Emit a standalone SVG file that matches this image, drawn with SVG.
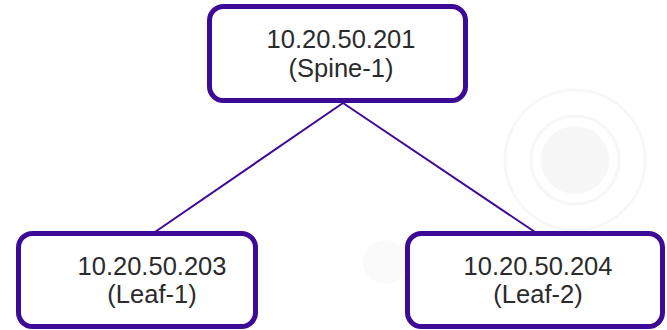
<svg xmlns="http://www.w3.org/2000/svg" width="667" height="330" viewBox="0 0 667 330">
  <style>
    .node rect { fill: #ffffff; stroke: #3d0a98; stroke-width: 5; }
    .node text { font-family: "Liberation Sans", Arial, sans-serif; font-size: 25.5px; fill: #2b2b2b; text-anchor: middle; }
    .link { stroke: #3d0a98; stroke-width: 2; fill: none; }
    .bg { fill: none; stroke: #f7f7f8; stroke-width: 3; }
  </style>
  <rect width="667" height="330" fill="#ffffff"/>
  <!-- faint background ornament -->
  <g id="backdrop">
    <circle cx="575" cy="160" r="34" fill="#f7f7f8"/>
    <circle cx="575" cy="160" r="44" class="bg"/>
    <circle cx="575" cy="160" r="70" class="bg" stroke-width="2"/>
    <circle cx="385" cy="262" r="22" fill="#fafafb"/>
  </g>
  <g id="connectors">
    <line class="link" x1="343" y1="103" x2="155" y2="232"/>
    <line class="link" x1="343" y1="103" x2="535" y2="232"/>
  </g>
  <g id="spine-1" class="node">
    <rect x="209.5" y="6.5" width="256" height="94" rx="14"/>
    <text x="341" y="48">10.20.50.201</text>
    <text x="341" y="77">(Spine-1)</text>
  </g>
  <g id="leaf-1" class="node">
    <rect x="18.5" y="233.5" width="237" height="93" rx="14"/>
    <text x="152" y="275">10.20.50.203</text>
    <text x="152" y="303">(Leaf-1)</text>
  </g>
  <g id="leaf-2" class="node">
    <rect x="407.5" y="233.5" width="255" height="93" rx="14"/>
    <text x="538" y="275">10.20.50.204</text>
    <text x="538" y="303">(Leaf-2)</text>
  </g>
</svg>
